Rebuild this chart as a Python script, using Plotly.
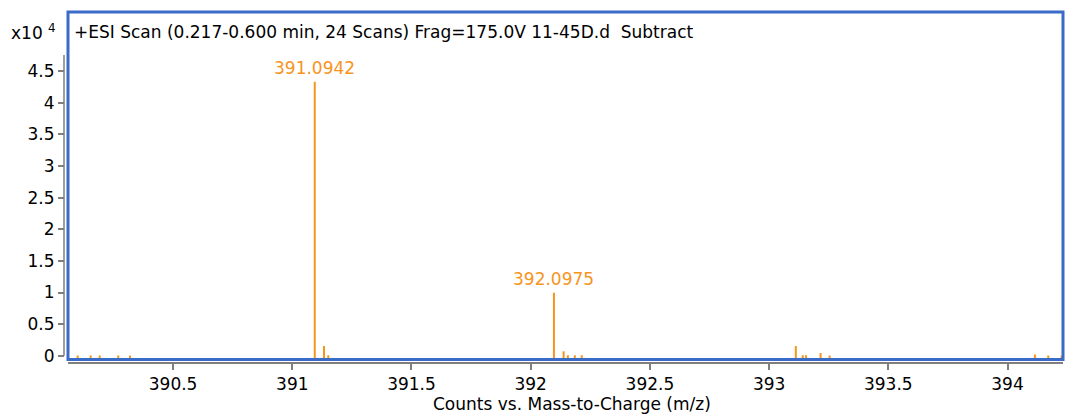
import plotly.graph_objects as go

# Centroided peaks: m/z and intensity (counts, x10^4)
mz = [390.0998, 390.1544, 390.1921, 390.2701, 390.3192,
      391.0942, 391.1330, 391.1510,
      392.0975, 392.1380, 392.1560, 392.1850, 392.2140,
      393.1120, 393.1410, 393.1550, 393.2160, 393.2540,
      394.1150, 394.1710, 394.2270]
intensity = [0.004, 0.004, 0.004, 0.004, 0.004,
             4.335, 0.153, 0.006,
             0.997, 0.070, 0.006, 0.006, 0.006,
             0.153, 0.006, 0.006, 0.043, 0.004,
             0.018, 0.004, 0.004]

# Peaks that carry an m/z label
labelled_mz = [391.0942, 392.0975]
labelled_text = ["391.0942", "392.0975"]

x_ticks = [390.5, 391, 391.5, 392, 392.5, 393, 393.5, 394]
x_tick_text = ["390.5", "391", "391.5", "392", "392.5", "393", "393.5", "394"]
y_ticks = [0, 0.5, 1, 1.5, 2, 2.5, 3, 3.5, 4, 4.5]
y_tick_text = ["0", "0.5", "1", "1.5", "2", "2.5", "3", "3.5", "4", "4.5"]

title_text = "+ESI Scan (0.217-0.600 min, 24 Scans) Frag=175.0V 11-45D.d  Subtract"
x_title = "Counts vs. Mass-to-Charge (m/z)"

X_RANGE = [390.0592, 394.2328]
Y_RANGE = [-0.060, 5.438]

ORANGE = "#F7941D"
BLUE = "#3A6BC8"
GRAY = "#7F7F7F"
FONT = "DejaVu Sans"
FS = 17

# Build stick segments rising from the floor of the plot
sx, sy = [], []
for m, h in zip(mz, intensity):
    sx += [m, m, None]
    sy += [Y_RANGE[0], h, None]

fig = go.Figure()
fig.add_trace(go.Scatter(x=sx, y=sy, mode="lines",
                         line=dict(color=ORANGE, width=2),
                         hoverinfo="skip", showlegend=False))

for m, t in zip(labelled_mz, labelled_text):
    h = intensity[mz.index(m)]
    fig.add_annotation(x=m, y=h, text=t, showarrow=False,
                       xref="x", yref="y", xanchor="center", yanchor="bottom",
                       yshift=2, font=dict(family=FONT, size=FS, color=ORANGE))

W, H = 1065, 416
ml, mr, mt, mb = 64, 2, 12, 53
pw, ph = W - ml - mr, H - mt - mb

def px(xpix):
    return (xpix - ml) / pw

def py(ypix):
    return (H - mb - ypix) / ph

fig.update_layout(
    width=W, height=H,
    margin=dict(l=ml, r=mr, t=mt, b=mb, pad=0),
    paper_bgcolor="white", plot_bgcolor="white",
    showlegend=False,
    font=dict(family=FONT, size=FS, color="black"),
    xaxis=dict(range=X_RANGE, domain=[px(68), 1], anchor="free", position=0,
               tickmode="array", tickvals=x_ticks, ticktext=x_tick_text,
               ticks="outside", ticklen=6, tickwidth=1.5, tickcolor=GRAY,
               showline=True, linecolor=GRAY, linewidth=2,
               showgrid=False, zeroline=False,
               tickfont=dict(family=FONT, size=FS, color="black")),
    yaxis=dict(range=Y_RANGE, domain=[py(359.5), 1], anchor="free", position=0,
               tickmode="array", tickvals=y_ticks, ticktext=y_tick_text,
               ticks="outside", ticklen=6, tickwidth=1.5, tickcolor=GRAY,
               showline=False, showgrid=False, zeroline=False,
               tickfont=dict(family=FONT, size=FS, color="black")),
)

# Vertical axis line from zero up to the top of the scale
fig.add_shape(type="line", xref="paper", yref="paper",
              x0=0, x1=0, y0=py(355.7), y1=py(55),
              line=dict(color=GRAY, width=1.5))

# Blue frame around the spectrum panel
fig.add_shape(type="rect", xref="x domain", yref="y domain",
              x0=0, x1=1, y0=0, y1=1, layer="above",
              line=dict(color=BLUE, width=3))

fig.add_annotation(text=title_text, xref="paper", yref="paper",
                   x=px(72), y=py(32), xanchor="left", yanchor="middle",
                   showarrow=False, font=dict(family=FONT, size=FS, color="black"))

fig.add_annotation(text="x10 <sup>4</sup>", xref="paper", yref="paper",
                   x=px(9), y=py(32), xanchor="left", yanchor="middle",
                   showarrow=False, font=dict(family=FONT, size=FS, color="black"))

fig.add_annotation(text=x_title, xref="paper", yref="paper",
                   x=px(572), y=py(404), xanchor="center", yanchor="middle",
                   showarrow=False, font=dict(family=FONT, size=FS, color="black"))

fig.write_html("out.html")
